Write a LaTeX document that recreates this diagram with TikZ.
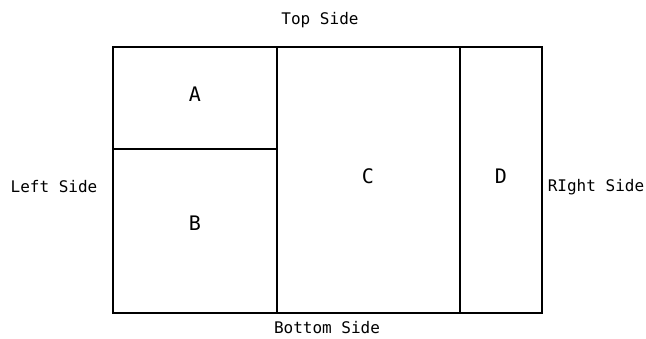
\documentclass[tikz,border=0pt]{standalone}
\usepackage{fontspec}
\setmonofont{DejaVu Sans Mono}
\usetikzlibrary{positioning}

\begin{document}
\begin{tikzpicture}[
				x=1pt, y=-1pt,
				cell/.style={
					rectangle,
					draw,
					inner sep=0pt,
					outer sep=0pt,
					line width=1.3pt
				},
				letter/.style={
					font=\ttfamily\fontsize{20}{20}\selectfont
				},
				side/.style={
					font=\ttfamily\fontsize{16}{16}\selectfont
				}
				]
				
				\useasboundingbox (0,0) rectangle (646,338);
				
				% Cells of the layout
				\node[cell, minimum width=164pt, minimum height=102pt] (cellA) at (195,98) {};
				\node[cell, minimum width=164pt, minimum height=164pt] (cellB) at (195,231) {};
				\node[cell, minimum width=183pt, minimum height=266pt] (cellC) at (368.5,180) {};
				\node[cell, minimum width=82pt, minimum height=266pt] (cellD) at (501,180) {};
				
				% Cell letters
				\node[letter] (labA) at (195,94) {A};
				\node[letter] (labB) at (195,223) {B};
				\node[letter] (labC) at (368,176) {C};
				\node[letter] (labD) at (501,176) {D};
				
				% Side captions
				\node[side] (top) at (320,20) {Top Side};
				\node[side] (bottom) at (327,328) {Bottom Side};
				\node[side] (left) at (54,187) {Left Side};
				\node[side] (right) at (596,187) {RIght Side};
				
			\end{tikzpicture}
\end{document}
